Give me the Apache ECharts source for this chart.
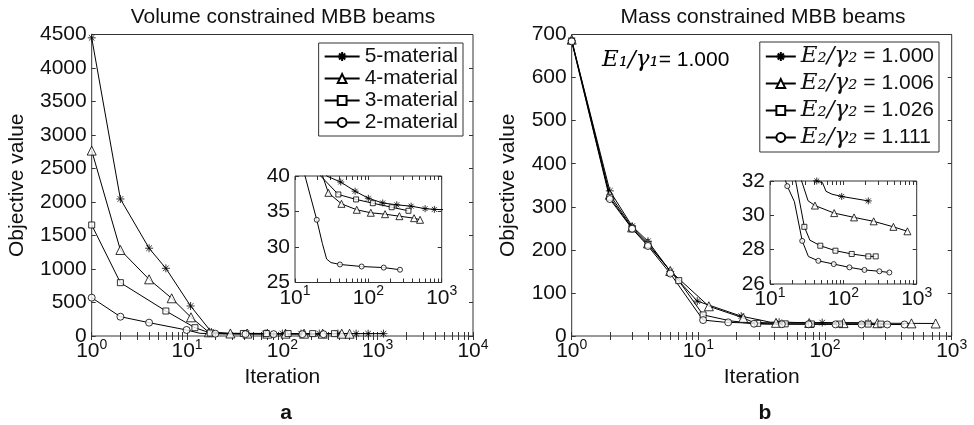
<!DOCTYPE html>
<html>
<head>
<meta charset="utf-8">
<script src="https://cdn.jsdelivr.net/npm/echarts@6/dist/echarts.min.js"></script>
<style>
  html, body { margin: 0; padding: 0; background: #fff; }
  #chart { width: 974px; height: 425px; }
</style>
</head>
<body>
<div id="chart"></div>
<script>
// ---- panel a: volume constrained MBB beams, points are [iteration, objective] ----
const volNames = ['5-material', '4-material', '3-material', '2-material'];
// points that carry a marker
const vol5Marks = [[1, 4450], [2, 2045], [4, 1310], [6, 1010], [10.9, 448], [18, 60], [42, 39.15], [66, 37.86], [100, 36.87], [157, 36.2], [244, 35.94], [383, 35.75], [594, 35.4], [794, 35.3], [1150, 35.25]];
const vol4Marks = [[1, 2767], [2, 1284], [4, 846], [6.9, 563], [11, 279], [17, 55], [28.5, 37.63], [43, 36.08], [69.5, 35.24], [108, 34.82], [169, 34.62], [265, 34.34], [420, 34.06], [507, 33.83]];
const vol3Marks = [[1, 1657], [2, 796], [6, 373], [12.1, 124], [17.5, 45], [39, 37.4], [68, 36.7], [115, 36.17], [208, 35.6], [352, 35.1]];
const vol2Marks = [[1, 572], [2, 288], [4, 199], [9.9, 90], [19.8, 33.83], [41, 27.54], [81, 27.25], [162, 27.1], [270, 26.8]];
// extra curve points without a marker
const vol5Knots = [[27, 40]];
const vol4Knots = [[23.8, 40]];
const vol3Knots = [[22.4, 40]];
const vol2Knots = [[13.7, 40], [23.6, 30.5], [27, 28.3], [31, 27.8]];

// ---- panel b: mass constrained MBB beams ----
const massNames = ['1.000', '1.006', '1.026', '1.111'];
const mass1Marks = [[1, 686], [2, 337], [3, 255], [4, 220], [6, 150], [9.8, 81], [21.8, 46], [43.4, 32.0], [95, 31.1], [219, 30.84]];
const mass2Marks = [[1, 688], [2, 328], [3, 252], [4, 215], [6, 151], [12.1, 69], [22.6, 42], [41, 30.57], [75, 30.13], [140, 29.88], [259, 29.65], [481, 29.33], [747, 29.07]];
const mass3Marks = [[1, 685], [2, 322], [3, 250], [4, 212], [7, 128.6], [10.9, 49], [29.4, 29.33], [48.5, 28.23], [78, 27.94], [130, 27.75], [219, 27.61], [276, 27.61]];
const mass4Marks = [[1, 684], [2, 318], [3, 249], [4, 209], [6, 145], [10.9, 37], [17.2, 31.7], [27.5, 28.51], [45.6, 27.35], [74, 27.16], [121, 26.97], [194, 26.82], [310, 26.74], [424, 26.67]];
const mass1Knots = [[37, 32.1], [52, 31.9], [58, 31.4], [70, 31.23]];
const mass2Knots = [[27, 32], [33, 30.85]];
const mass3Knots = [[18, 35], [22.4, 32], [35, 28.55]];
const mass4Knots = [[15.8, 32.2], [21.5, 30.8], [33.4, 27.6]];

const FONT = '"Liberation Sans", Arial, sans-serif';
const FS = 21;
const AX = '#333';
const INK = '#111';

const STAR = 'path://M0,5L10,5M5,0L5,10M1.5,1.5L8.5,8.5M1.5,8.5L8.5,1.5';
const symbols = [STAR, 'triangle', 'rect', 'circle'];
const mainSizes = [8, 9, 6, 7];
const insetSizes = [7, 7, 5, 5];

const chart = echarts.init(document.getElementById('chart'));

function curve(marks, knots) {
  return marks.concat(knots).sort((a, b) => a[0] - b[0]);
}

// major + minor tick values of a log axis (10^lo .. 10^hi)
function logTicks(lo, hi) {
  const v = [];
  for (let e = lo; e < hi; e++) {
    for (let k = 1; k < 10; k++) v.push(k * Math.pow(10, e));
  }
  v.push(Math.pow(10, hi));
  return v;
}

const tickStyle = { inside: true, length: 4, lineStyle: { color: AX, width: 1 } };

function xAxes(gi, lo, hi, withName) {
  const base = {
    type: 'log', logBase: 10, gridIndex: gi,
    min: Math.pow(10, lo), max: Math.pow(10, hi),
    axisLine: { show: false }, splitLine: { show: false },
    axisTick: Object.assign({ customValues: logTicks(lo, hi) }, tickStyle)
  };
  const bottom = Object.assign({}, base, {
    position: 'bottom',
    axisLabel: {
      margin: 2,
      formatter: v => '{b|10}{s|' + Math.round(Math.log10(v)) + '}',
      rich: {
        b: { fontSize: FS, lineHeight: 27, fontFamily: FONT, color: INK },
        s: { fontSize: 14, verticalAlign: 'top', fontFamily: FONT, color: INK }
      }
    }
  });
  if (withName) {
    Object.assign(bottom, {
      name: 'Iteration', nameLocation: 'middle', nameGap: 29,
      nameTextStyle: { fontSize: FS, fontFamily: FONT, color: INK }
    });
  }
  const top = Object.assign({}, base, { position: 'top', axisLabel: { show: false } });
  return [bottom, top];
}

function yAxes(gi, min, max, step, nameGap) {
  const base = {
    type: 'value', gridIndex: gi, min: min, max: max, interval: step,
    axisLine: { show: false }, splitLine: { show: false }, axisTick: tickStyle
  };
  const left = Object.assign({}, base, {
    position: 'left',
    axisLabel: { fontSize: FS, fontFamily: FONT, color: INK, margin: 5, formatter: v => String(v) }
  });
  if (nameGap) {
    Object.assign(left, {
      name: 'Objective value', nameLocation: 'middle', nameGap: nameGap,
      nameTextStyle: { fontSize: FS, fontFamily: FONT, color: INK }
    });
  }
  const right = Object.assign({}, base, { position: 'right', axisLabel: { show: false } });
  return [left, right];
}

const markStyle = { color: '#fff', borderColor: '#000', borderWidth: 1 };

function seriesFor(gi, names, marksList, knotsList, sizes) {
  const out = [];
  names.forEach((name, i) => {
    out.push({
      type: 'line', name: name, xAxisIndex: gi * 2, yAxisIndex: gi * 2,
      data: curve(marksList[i], knotsList[i]),
      symbol: symbols[i], showSymbol: false, clip: true, silent: true,
      lineStyle: { color: '#000', width: 1 },
      itemStyle: markStyle, z: 2
    });
    out.push({
      type: 'scatter', name: name + '#m', xAxisIndex: gi * 2, yAxisIndex: gi * 2,
      data: marksList[i], symbol: symbols[i], symbolSize: sizes[i], clip: true, silent: true,
      itemStyle: markStyle, z: 3
    });
  });
  return out;
}

const volMarks = [vol5Marks, vol4Marks, vol3Marks, vol2Marks];
const volKnots = [vol5Knots, vol4Knots, vol3Knots, vol2Knots];
const massMarks = [mass1Marks, mass2Marks, mass3Marks, mass4Marks];
const massKnots = [mass1Knots, mass2Knots, mass3Knots, mass4Knots];

const gridBase = { show: true, borderColor: AX, borderWidth: 1, backgroundColor: '#fff' };

const mathRich = {
  m: { fontFamily: '"DejaVu Serif", serif', fontStyle: 'italic', fontSize: 23, color: INK },
  t: { fontFamily: FONT, fontSize: FS, color: INK }
};

const option = {
  animation: false,
  backgroundColor: '#fff',
  grid: [
    Object.assign({ left: 91.7, top: 34.5, width: 381.3, height: 301.5 }, gridBase),
    Object.assign({ left: 295, top: 176, width: 146.7, height: 106.5 }, gridBase),
    Object.assign({ left: 571.7, top: 34.5, width: 380, height: 301.5 }, gridBase),
    Object.assign({ left: 770, top: 181, width: 146.7, height: 103 }, gridBase)
  ],
  xAxis: [].concat(
    xAxes(0, 0, 4, true),
    xAxes(1, 1, 3, false),
    xAxes(2, 0, 3, true),
    xAxes(3, 1, 3, false)
  ),
  yAxis: [].concat(
    yAxes(0, 0, 4500, 500, 64),
    yAxes(1, 25, 40, 5, 0),
    yAxes(2, 0, 700, 100, 53),
    yAxes(3, 26, 32, 2, 0)
  ),
  legend: [
    {
      data: volNames, right: 511, top: 43, orient: 'vertical',
      itemWidth: 35, itemHeight: 11, itemGap: 1, padding: [3, 5, 3, 5],
      borderColor: AX, borderWidth: 1, backgroundColor: '#fff', selectedMode: false,
      textStyle: { fontSize: FS, fontFamily: FONT, color: INK }
    },
    {
      data: massNames, right: 35, top: 42, orient: 'vertical',
      itemWidth: 30, itemHeight: 11, itemGap: 4, padding: [3, 5, 3, 5],
      borderColor: AX, borderWidth: 1, backgroundColor: '#fff', selectedMode: false,
      formatter: n => '{m|E₂/γ₂}{t| = ' + n + '}',
      textStyle: { fontSize: FS, fontFamily: FONT, color: INK, rich: mathRich }
    }
  ],
  graphic: [
    { type: 'text', x: 283, y: 17, style: { text: 'Volume constrained MBB beams', font: FS + 'px ' + FONT, fill: INK, textAlign: 'center', textVerticalAlign: 'middle' } },
    { type: 'text', x: 763, y: 17, style: { text: 'Mass constrained MBB beams', font: FS + 'px ' + FONT, fill: INK, textAlign: 'center', textVerticalAlign: 'middle' } },
    { type: 'text', x: 286, y: 413, style: { text: 'a', font: 'bold ' + FS + 'px ' + FONT, fill: INK, textAlign: 'center', textVerticalAlign: 'middle' } },
    { type: 'text', x: 765, y: 413, style: { text: 'b', font: 'bold ' + FS + 'px ' + FONT, fill: INK, textAlign: 'center', textVerticalAlign: 'middle' } },
    { type: 'text', x: 602, y: 60, style: { text: '{m|E₁/γ₁}{t|= 1.000}', rich: mathRich, textVerticalAlign: 'middle' } }
  ],
  series: [].concat(
    seriesFor(0, volNames, volMarks, volKnots, mainSizes),
    seriesFor(1, volNames, volMarks, volKnots, insetSizes),
    seriesFor(2, massNames, massMarks, massKnots, mainSizes),
    seriesFor(3, massNames, massMarks, massKnots, insetSizes)
  )
};

chart.setOption(option);
window.addEventListener('resize', () => chart.resize());
</script>
</body>
</html>
